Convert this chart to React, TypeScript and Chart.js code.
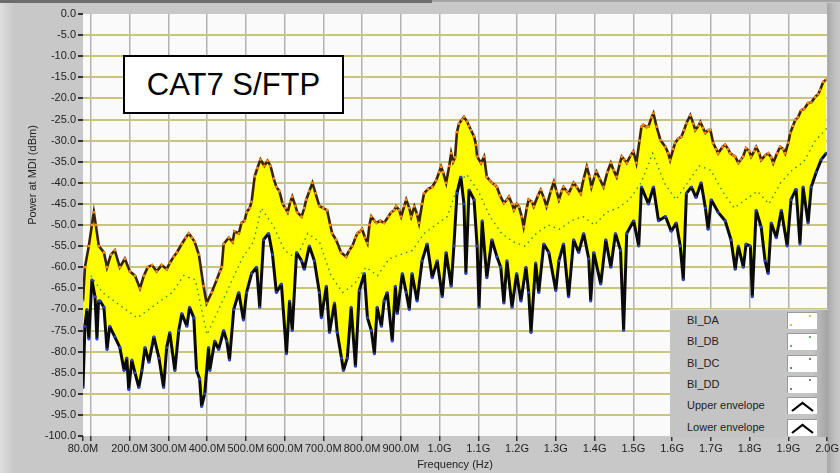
import React, { useEffect, useRef } from "react";
import { Chart, registerables } from "chart.js";

Chart.register(...registerables);

const FONT = "'Liberation Sans', Arial, sans-serif";

// Upper envelope (frequency in MHz, power in dBm)
const UPPER_FREQ = [80, 85, 95, 103, 108, 113, 121, 134, 142, 152, 162, 175, 188, 201, 214, 227, 237, 247, 258, 270, 283, 296, 304, 314, 322, 335, 345, 353, 361, 368, 379, 391, 399, 412, 425, 433, 438, 443, 456, 466, 471, 482, 489, 497, 502, 510, 515, 523, 530, 538, 548, 556, 564, 572, 579, 587, 595, 602, 608, 615, 620, 628, 633, 644, 651, 656, 664, 672, 680, 690, 700, 710, 718, 723, 733, 746, 759, 767, 775, 783, 788, 795, 800, 808, 814, 819, 824, 832, 837, 847, 857, 868, 875, 883, 888, 896, 901, 909, 914, 922, 927, 935, 942, 947, 955, 960, 970, 981, 991, 999, 1004, 1009, 1017, 1025, 1030, 1035, 1040, 1045, 1050, 1058, 1063, 1071, 1076, 1081, 1089, 1094, 1097, 1107, 1115, 1122, 1130, 1135, 1143, 1148, 1156, 1166, 1174, 1179, 1187, 1192, 1199, 1205, 1212, 1217, 1225, 1230, 1238, 1243, 1254, 1261, 1269, 1276, 1287, 1295, 1302, 1308, 1315, 1320, 1328, 1333, 1341, 1346, 1354, 1364, 1372, 1380, 1387, 1392, 1400, 1405, 1413, 1423, 1433, 1442, 1449, 1457, 1465, 1470, 1477, 1483, 1493, 1500, 1508, 1516, 1521, 1526, 1534, 1539, 1547, 1552, 1560, 1570, 1583, 1590, 1595, 1603, 1608, 1616, 1624, 1631, 1637, 1647, 1655, 1660, 1668, 1673, 1680, 1686, 1693, 1699, 1706, 1714, 1719, 1730, 1737, 1745, 1750, 1758, 1763, 1771, 1778, 1783, 1791, 1799, 1804, 1812, 1817, 1825, 1830, 1840, 1848, 1856, 1861, 1871, 1879, 1887, 1892, 1900, 1905, 1912, 1918, 1925, 1933, 1941, 1951, 1959, 1969, 1977, 1982, 1990, 1998];
const UPPER_DB = [-68, -60, -55, -50, -47, -50, -55, -56.5, -60, -57, -56, -60, -58, -61, -62, -65, -62, -60, -59.5, -61, -59.5, -60.5, -59, -57.5, -56.5, -54.5, -53, -52, -53, -54, -57, -64.5, -68.5, -66, -63, -61, -60, -54.5, -53, -54, -51.5, -52, -49.5, -49, -47, -46, -44.5, -38.5, -36.5, -34.5, -36, -34.8, -36, -39, -41, -42, -45, -46, -47, -44.5, -43.3, -45.5, -47, -48, -46, -44, -42, -40, -42.5, -45.5, -46, -46.5, -50, -52, -53.5, -56.5, -57.5, -56, -55, -53, -52, -51.5, -51, -53, -54.3, -50, -48, -49, -49.5, -49, -49.5, -48, -47, -46.5, -45.6, -46.5, -48, -45.5, -44, -46, -48, -45.6, -47.5, -49.5, -45, -42.5, -41.5, -41, -39.5, -37.5, -36.2, -37.5, -40, -36, -33, -35, -34, -28, -26, -25, -24.4, -25.5, -26.5, -27.5, -29, -31, -33.8, -35.3, -33.8, -38.6, -39.5, -40, -40.5, -41, -43, -44.8, -44, -43.3, -45, -46.4, -45, -45.7, -48, -50.4, -46, -44, -44.5, -45.6, -43, -41.7, -43.5, -45.6, -42, -39.8, -42, -44, -42, -41, -42, -42.5, -41, -40, -41, -42.5, -39, -36.2, -38.5, -41, -38.5, -37.4, -39, -41, -37.5, -35.3, -37, -38.6, -35.5, -33.8, -34.5, -35.3, -33.5, -32.6, -35.3, -30, -26.7, -26.3, -26.8, -26.7, -24.5, -23.5, -26.7, -29.9, -31.5, -33, -34.6, -32, -30.6, -29.5, -29.1, -27.5, -25.9, -24, -26, -27.5, -26.5, -25.6, -27, -28.2, -27.5, -27.5, -30.6, -32, -33, -31.5, -31, -32, -33, -33.5, -33.8, -35.3, -34.5, -33.8, -31.8, -32.5, -33.8, -32.5, -31.5, -33, -34.6, -33.5, -33, -34, -35.3, -33, -31.5, -32, -33, -30.5, -28.2, -26.5, -25.1, -24.5, -22.8, -22.5, -21.1, -21, -19.7, -19, -18, -16.1, -15.5];

// Lower envelope (frequency in MHz, power in dBm)
const LOWER_FREQ = [80, 85, 90, 95, 103, 111, 116, 120, 124, 134, 142, 149, 162, 175, 186, 193, 198, 206, 214, 224, 232, 240, 250, 263, 276, 288, 296, 304, 317, 327, 335, 348, 355, 366, 373, 381, 386, 394, 404, 407, 420, 430, 443, 451, 458, 469, 482, 494, 502, 515, 528, 536, 546, 559, 569, 579, 592, 605, 613, 620, 631, 644, 651, 664, 677, 690, 695, 708, 716, 729, 736, 747, 752, 762, 772, 783, 793, 806, 814, 824, 832, 839, 850, 857, 865, 878, 886, 891, 904, 914, 922, 929, 942, 955, 968, 981, 994, 1007, 1017, 1030, 1037, 1045, 1055, 1063, 1068, 1076, 1089, 1097, 1102, 1110, 1122, 1135, 1148, 1158, 1166, 1174, 1187, 1199, 1210, 1223, 1230, 1236, 1248, 1256, 1269, 1282, 1300, 1308, 1320, 1333, 1346, 1359, 1372, 1385, 1390, 1398, 1416, 1429, 1442, 1454, 1467, 1475, 1483, 1501, 1514, 1521, 1539, 1552, 1565, 1583, 1598, 1611, 1621, 1629, 1637, 1650, 1662, 1675, 1686, 1693, 1701, 1719, 1737, 1752, 1763, 1771, 1784, 1791, 1802, 1807, 1817, 1830, 1840, 1848, 1856, 1869, 1882, 1897, 1907, 1920, 1930, 1938, 1951, 1959, 1972, 1985, 1998];
const LOWER_DB = [-88.5, -74, -70, -77, -63, -67, -77, -68, -68, -69.5, -79.5, -74, -76.5, -79, -84.5, -81.5, -89, -82, -85, -88.5, -84.5, -79, -82.5, -76.5, -81.5, -88.5, -79, -75.5, -84.5, -75, -71, -74, -69.5, -72, -84.5, -86.5, -93, -90, -79, -84.5, -77.5, -79.5, -75, -77.5, -82, -70, -66, -72.5, -66, -61.5, -60, -69.5, -53.5, -52, -57, -66, -64, -80.5, -68, -75, -56.5, -58.5, -60.5, -55, -58.5, -66, -72, -64.5, -75.5, -68.5, -75.5, -81.5, -84.5, -81.5, -69.5, -83.5, -65.5, -61.5, -72, -75, -80.5, -69.5, -74, -68, -66, -77.5, -64.5, -71, -61.5, -66, -70, -61.5, -68, -58.5, -54.5, -62.5, -58.5, -67, -56.5, -64.5, -55, -42.5, -38.6, -45, -61.5, -41.7, -44, -55, -69.5, -49, -62.5, -53.5, -57.5, -60, -68.5, -58.5, -69.5, -61.5, -68, -60, -66, -75.5, -59, -66, -54.5, -56.5, -65.5, -58.5, -54.5, -67, -53.5, -56.5, -52, -58, -68, -56.5, -64, -53.5, -60, -52, -56, -75, -52, -49, -55, -41, -45, -41, -49, -48, -51.5, -49.5, -55, -63, -42.5, -41, -43.5, -40, -46, -51, -44, -47, -49, -53.5, -60.5, -55, -60, -54.5, -55, -67, -46.5, -50.5, -58.5, -61.5, -49.5, -53, -46.5, -55, -44, -41.5, -54.5, -41, -49.5, -41, -37.5, -34.5, -33];

// BI_DB trace (green dots, mid band)
const BI_DB_FREQ = [100, 130, 160, 190, 220, 250, 280, 310, 340, 370, 400, 430, 460, 490, 520, 540, 570, 600, 630, 660, 690, 720, 750, 780, 810, 840, 870, 900, 930, 960, 990, 1020, 1050, 1070, 1100, 1130, 1160, 1190, 1220, 1250, 1280, 1310, 1340, 1370, 1400, 1430, 1460, 1490, 1520, 1550, 1580, 1610, 1640, 1670, 1700, 1730, 1760, 1790, 1820, 1850, 1880, 1910, 1940, 1970, 2000];
const BI_DB_DB = [-62, -66, -68, -70, -72, -70, -68, -66, -62, -63, -76, -70, -64, -58, -54, -46, -50, -56, -58, -52, -54, -62, -66, -64, -60, -62, -58, -57, -56, -52, -50, -48, -40, -38, -42, -48, -52, -54, -55, -52, -50, -51, -49, -48, -50, -47, -46, -44, -40, -33, -40, -44, -40, -36, -37, -42, -46, -44, -42, -45, -40, -37, -35, -30, -27];

const X_TICKS = [80, 100, 200, 300, 400, 500, 600, 700, 800, 900, 1000, 1100, 1200, 1300, 1400, 1500, 1600, 1700, 1800, 1900, 2000];
const Y_MIN = -100;
const Y_MAX = 0;
const Y_STEP = 5;

const LEGEND_LABELS = ["BI_DA", "BI_DB", "BI_DC", "BI_DD", "Upper envelope", "Lower envelope"];
const LEGEND_DOT_COLORS = ["#e8a020", "#3a9a3a", "#3050d0", "#505070"];

const toPoints = (xs: number[], ys: number[]) => xs.map((x, i) => ({ x, y: ys[i] }));

const fmtFreq = (v: number) => {
  if (v === 100) return "";
  if (v < 1000) return v.toFixed(1) + "M";
  return (v / 1000).toFixed(1) + "G";
};

export default function App() {
  const ref = useRef<HTMLCanvasElement>(null);

  useEffect(() => {
    const canvas = ref.current;
    if (!canvas) return;
    Chart.defaults.font.family = FONT;

    const bgPlugin = {
      id: "bgPlugin",
      beforeDraw(chart: any) {
        const { ctx, chartArea: a, width, height } = chart;
        ctx.save();
        ctx.fillStyle = "#c8c8c8";
        ctx.fillRect(0, 0, width, height);
        const g = ctx.createLinearGradient(0, 0, 14, 0);
        g.addColorStop(0, "#dedede");
        g.addColorStop(1, "#c8c8c8");
        ctx.fillStyle = g;
        ctx.fillRect(0, 3, 14, height - 3);
        const g2 = ctx.createLinearGradient(a.right, 0, width, 0);
        g2.addColorStop(0, "#a6a6a6");
        g2.addColorStop(0.5, "#bdbdbd");
        g2.addColorStop(1, "#c8c8c8");
        ctx.fillStyle = g2;
        ctx.fillRect(a.right, 3, width - a.right, height - 3);
        ctx.fillStyle = "#6c6c6c";
        ctx.fillRect(0, 0, 432, 3);
        ctx.fillStyle = "#a4a4a4";
        ctx.fillRect(432, 0, width - 432, 2);
        ctx.fillStyle = "#fafafa";
        ctx.fillRect(a.left, a.top, a.right - a.left, a.bottom - a.top);
        ctx.restore();
      },
      afterDraw(chart: any) {
        const { ctx } = chart;
        ctx.save();
        ctx.translate(33, 175);
        ctx.rotate(-Math.PI / 2);
        ctx.font = "11px " + FONT;
        ctx.fillStyle = "#222";
        ctx.textAlign = "center";
        ctx.textBaseline = "middle";
        ctx.fillText("Power at MDI (dBm)", 0, 0);
        ctx.restore();
      },
    };

    const chart = new Chart(canvas, {
      type: "line",
      data: {
        datasets: [
          {
            label: "Upper envelope",
            data: toPoints(UPPER_FREQ, UPPER_DB),
            borderColor: "#3a2206",
            borderWidth: 2.6,
            backgroundColor: "#ffff00",
            fill: "+1",
            pointRadius: 1.4,
            pointBorderWidth: 0,
            pointBackgroundColor: "#ff8a10",
            tension: 0,
            order: 0,
          },
          {
            label: "Lower envelope",
            data: toPoints(LOWER_FREQ, LOWER_DB),
            borderColor: "#0a0a0a",
            borderWidth: 3,
            fill: false,
            pointRadius: 1.5,
            pointBorderWidth: 0,
            pointBackgroundColor: "#2442c8",
            borderJoinStyle: "bevel",
            tension: 0,
            order: 1,
          },
          {
            label: "BI_DB",
            data: toPoints(BI_DB_FREQ, BI_DB_DB),
            borderColor: "#2f9a2f",
            borderWidth: 1.4,
            borderDash: [1.5, 4],
            fill: false,
            pointRadius: 0,
            tension: 0,
            order: 2,
          },
        ],
      },
      options: {
        responsive: false,
        maintainAspectRatio: false,
        devicePixelRatio: 1,
        animation: false,
        events: [],
        layout: { padding: { left: 0, top: 14, right: 12, bottom: 0 } },
        plugins: {
          legend: { display: false },
          tooltip: { enabled: false },
          filler: { drawTime: "beforeDatasetsDraw" },
        },
        scales: {
          x: {
            type: "linear",
            min: 80,
            max: 2000,
            afterBuildTicks: (scale: any) => {
              scale.ticks = X_TICKS.map((v) => ({ value: v }));
            },
            afterFit: (scale: any) => {
              scale.height = 37;
            },
            ticks: {
              autoSkip: false,
              maxRotation: 0,
              minRotation: 0,
              padding: 1,
              color: "#1e1e1e",
              font: { size: 11 },
              callback: (v: any) => fmtFreq(Number(v)),
            },
            grid: {
              color: (c: any) => {
                const v = c.tick && c.tick.value;
                return v === 80 || v === 2000 ? "rgba(0,0,0,0)" : "#b2b2b2";
              },
              lineWidth: 1.5,
              tickColor: "#333",
              tickLength: 5,
            },
            border: { display: false },
            title: {
              display: true,
              text: "Frequency (Hz)",
              color: "#222",
              font: { size: 11 },
              padding: { top: 0, bottom: 1 },
            },
          },
          y: {
            type: "linear",
            min: Y_MIN,
            max: Y_MAX,
            afterFit: (scale: any) => {
              scale.width = 83;
            },
            ticks: {
              stepSize: Y_STEP,
              autoSkip: false,
              padding: 2,
              color: "#1e1e1e",
              font: { size: 11 },
              callback: (v: any) => Number(v).toFixed(1),
            },
            grid: {
              color: (c: any) => {
                const v = c.tick && c.tick.value;
                return v === Y_MIN || v === Y_MAX ? "rgba(0,0,0,0)" : "#c8c67c";
              },
              lineWidth: 2,
              tickColor: "#333",
              tickLength: 5,
            },
            border: { display: false },
          },
        },
      },
      plugins: [bgPlugin],
    } as any);

    return () => chart.destroy();
  }, []);

  const rowTop = (i: number) => 309 + 11 + i * 21.3;

  return (
    <div
      style={{
        position: "fixed",
        left: 0,
        top: 0,
        width: 840,
        height: 473,
        overflow: "hidden",
        fontFamily: FONT,
      }}
    >
      <canvas
        ref={ref}
        width={840}
        height={473}
        style={{ position: "absolute", left: 0, top: 0, width: 840, height: 473 }}
      />
      <div
        style={{
          position: "absolute",
          left: 123,
          top: 55,
          width: 221,
          height: 59,
          boxSizing: "border-box",
          border: "2px solid #000",
          background: "#fff",
          display: "flex",
          alignItems: "center",
          justifyContent: "center",
          fontSize: 31,
          color: "#000",
        }}
      >
        CAT7 S/FTP
      </div>
      <div
        style={{
          position: "absolute",
          left: 670,
          top: 309,
          width: 158,
          height: 128,
          background: "linear-gradient(to right, #c4c4c4 0%, #c4c4c4 90%, #a4a4a4 100%)",
          borderTop: "1px solid #d8d8d8",
          boxSizing: "border-box",
        }}
      />
      {LEGEND_LABELS.map((lab, i) => {
        const cy = rowTop(i);
        return (
          <React.Fragment key={lab}>
            <div
              style={{
                position: "absolute",
                left: 687,
                top: cy - 7,
                fontSize: 11,
                lineHeight: "14px",
                color: "#222",
                whiteSpace: "nowrap",
              }}
            >
              {lab}
            </div>
            <div
              style={{
                position: "absolute",
                left: 787,
                top: cy - 8,
                width: 30,
                height: 17,
                background: "#fff",
                boxSizing: "border-box",
                borderTop: "1px solid #9a9a9a",
                borderLeft: "1px solid #9a9a9a",
              }}
            >
              <svg width={29} height={16} style={{ display: "block" }}>
                {i < 4 ? (
                  <>
                    <circle cx={22} cy={3} r={1} fill={LEGEND_DOT_COLORS[i]} />
                    <circle cx={3} cy={12} r={1} fill={LEGEND_DOT_COLORS[i]} />
                  </>
                ) : (
                  <polyline
                    points="4,13 14.5,5 25,13"
                    fill="none"
                    stroke="#000"
                    strokeWidth={2.2}
                  />
                )}
              </svg>
            </div>
          </React.Fragment>
        );
      })}
    </div>
  );
}
